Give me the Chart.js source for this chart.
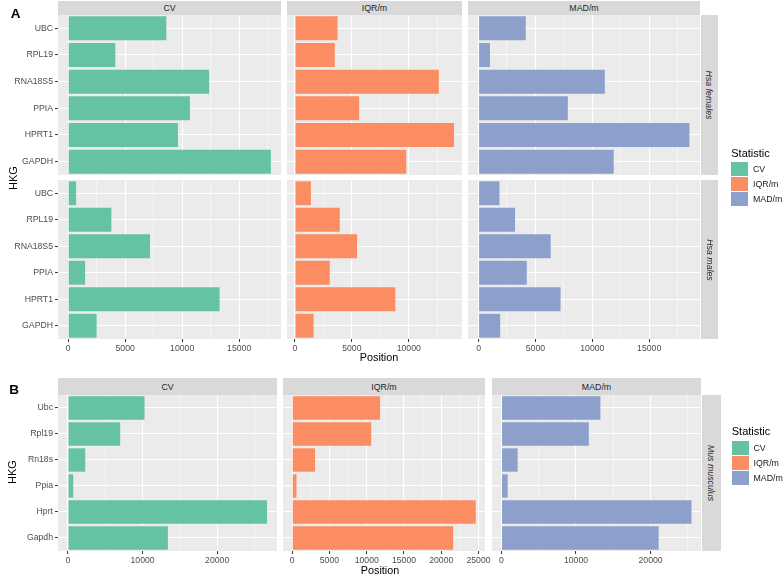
<!DOCTYPE html>
<html>
<head>
<meta charset="utf-8">
<script src="https://cdn.jsdelivr.net/npm/chart.js@4.4.0/dist/chart.umd.min.js"></script>
<style>
body { margin: 0; width: 783px; height: 575px; position: relative; overflow: hidden; background: #fff;
       font-family: "Liberation Sans", Arial, sans-serif; }
.box { position: absolute; }
.strip { position: absolute; background: #D9D9D9; color: #262626; font-size: 8.8px; font-weight: 400;
         display: flex; align-items: center; justify-content: center; }
.strip span { white-space: nowrap; }
.rot span { transform: rotate(90deg); font-style: italic; }
.txt { position: absolute; transform: translate(-50%, -50%); white-space: nowrap; }
.cle { position: absolute; width: 17px; height: 14px; }
.lab { position: absolute; font-size: 8.8px; color: #1A1A1A; transform: translateY(-50%); }
</style>
</head>
<body>
<script>
const genesA = ["UBC", "RPL19", "RNA18S5", "PPIA", "HPRT1", "GAPDH"];
const genesB = ["Ubc", "Rpl19", "Rn18s", "Ppia", "Hprt", "Gapdh"];
const statistiques = ["CV", "IQR/m", "MAD/m"];
const couleurs = ["#66C2A5", "#FC8D62", "#8DA0CB"];

// Hsa females
const femmesCV = [8610, 4140, 12370, 10680, 9630, 17780];
const femmesIQR = [3740, 3500, 12640, 5640, 13980, 9780];
const femmesMAD = [4150, 1000, 11100, 7850, 18540, 11880];
// Hsa males
const hommesCV = [700, 3790, 7180, 1490, 13280, 2500];
const hommesIQR = [1400, 3940, 5460, 3060, 8820, 1640];
const hommesMAD = [1840, 3210, 6340, 4240, 7210, 1900];
// Mus musculus
const sourisCV = [10260, 7000, 2320, 710, 26680, 13390];
const sourisIQR = [11800, 10600, 3070, 570, 24640, 21600];
const sourisMAD = [13270, 11710, 2160, 830, 25490, 21090];

// graduations principales
const ticksA = [0, 5000, 10000, 15000];
const ticksB_CV = [0, 10000, 20000];
const ticksB_IQR = [0, 5000, 10000, 15000, 20000, 25000];
const ticksB_MAD = [0, 10000, 20000];

Chart.defaults.font.family = '"Liberation Sans", Arial, sans-serif';
Chart.defaults.font.size = 8.7;
Chart.defaults.color = "#4D4D4D";

const fondGris = {
    id: "fondGris",
    beforeDraw(chart) {
        const a = chart.chartArea, c = chart.ctx;
        c.save();
        c.fillStyle = "#EBEBEB";
        c.fillRect(a.left, a.top, a.right - a.left, a.bottom - a.top);
        c.restore();
    }
};

function ajouterDiv(classe, x, y, w, h) {
    let d = document.createElement("div");
    d.className = classe;
    d.style.left = x + "px";
    d.style.top = y + "px";
    if (w != null) d.style.width = w + "px";
    if (h != null) d.style.height = h + "px";
    document.body.appendChild(d);
    return d;
}

function texte(str, x, y, style) {
    let d = ajouterDiv("txt", x, y);
    d.textContent = str;
    Object.assign(d.style, style || {});
    return d;
}

function bande(str, x, y, w, h, rot) {
    let d = ajouterDiv(rot ? "strip rot" : "strip", x, y, w, h);
    let s = document.createElement("span");
    s.textContent = str;
    d.appendChild(s);
}

// Un panneau = un graphique Chart.js placé exactement sur la zone grise
// (le canvas déborde à droite pour ne pas couper la dernière étiquette)
const DEBORD = 14;
function panneau(p) {
    let div = ajouterDiv("box", p.left - p.yw, p.top, p.width + p.yw + DEBORD, p.height + p.xh);
    let canvas = document.createElement("canvas");
    div.appendChild(canvas);

    let maxi = Math.max(...p.maxVals);
    let lo = -0.05 * maxi, hi = 1.05 * maxi;
    let pas = p.majeurs[1] - p.majeurs[0];
    let tous = [];
    for (let v of p.majeurs) {
        for (let m of [v - pas / 2, v, v + pas / 2]) {
            if (m >= lo && m <= hi && !tous.includes(m)) tous.push(m);
        }
    }
    tous.sort((a, b) => a - b);
    const estMajeur = (ctx) => ctx.tick && p.majeurs.includes(ctx.tick.value);

    new Chart(canvas, {
        type: "bar",
        data: {
            labels: p.labels,
            datasets: [{
                data: p.valeurs,
                backgroundColor: p.couleur,
                borderWidth: 0,
                barPercentage: 0.9,
                categoryPercentage: 1
            }]
        },
        options: {
            indexAxis: "y",
            responsive: true,
            maintainAspectRatio: false,
            animation: false,
            layout: { padding: { left: 0, top: 0, bottom: 0, right: DEBORD } },
            plugins: { legend: { display: false }, tooltip: { enabled: false } },
            scales: {
                x: {
                    type: "linear", min: lo, max: hi,
                    afterBuildTicks: s => { s.ticks = tous.map(v => ({ value: v })); },
                    afterFit: s => { s.height = p.xh; s.paddingLeft = 0; s.paddingRight = 0; },
                    ticks: {
                        display: p.xh > 0, autoSkip: false, maxRotation: 0, minRotation: 0, padding: 1,
                        callback: v => p.majeurs.includes(v) ? String(v) : ""
                    },
                    grid: {
                        color: "#FFFFFF",
                        lineWidth: ctx => estMajeur(ctx) ? 1.1 : 0.5,
                        drawTicks: p.xh > 0, tickLength: 3, tickWidth: 1,
                        tickColor: ctx => estMajeur(ctx) ? "#333333" : "rgba(0,0,0,0)"
                    },
                    border: { display: false }
                },
                y: {
                    afterFit: s => { s.width = p.yw; s.paddingTop = 0; s.paddingBottom = 0; },
                    ticks: { display: p.yw > 0, padding: 2 },
                    grid: {
                        offset: false, color: "#FFFFFF", lineWidth: 1.1,
                        drawTicks: p.yw > 0, tickLength: 3, tickWidth: 1, tickColor: "#333333"
                    },
                    border: { display: false }
                }
            }
        },
        plugins: [fondGris]
    });
}

function legende(x, yTitre, yCles) {
    texte("Statistic", x + 19.5, yTitre, { fontSize: "11px", color: "#000" });
    for (let i = 0; i < 3; i++) {
        let c = ajouterDiv("cle", x, yCles + i * 15);
        c.style.background = couleurs[i];
        let l = ajouterDiv("lab", x + 22, yCles + i * 15 + 7);
        l.textContent = statistiques[i];
    }
}

// ---- Partie A ----
const colonnesA = [{ left: 58, width: 223 }, { left: 287, width: 175 }, { left: 468, width: 232 }];
const lignesA = [{ top: 15, height: 160 }, { top: 180, height: 159 }];
const donneesA = [[femmesCV, femmesIQR, femmesMAD], [hommesCV, hommesIQR, hommesMAD]];
for (let c = 0; c < 3; c++) {
    bande(statistiques[c], colonnesA[c].left, 1, colonnesA[c].width, 14);
    for (let r = 0; r < 2; r++) {
        panneau({
            left: colonnesA[c].left, width: colonnesA[c].width,
            top: lignesA[r].top, height: lignesA[r].height,
            yw: c == 0 ? 58 : 0, xh: r == 1 ? 16 : 0,
            labels: genesA, valeurs: donneesA[r][c], couleur: couleurs[c],
            maxVals: donneesA[0][c].concat(donneesA[1][c]), majeurs: ticksA
        });
    }
}
bande("Hsa females", 701, 15, 17, 160, true);
bande("Hsa males", 701, 180, 17, 159, true);
texte("A", 15.5, 13, { fontSize: "13.5px", fontWeight: "bold", color: "#000" });
texte("HKG", 13, 178, { fontSize: "11px", color: "#000", transform: "translate(-50%,-50%) rotate(-90deg)" });
texte("Position", 379, 357, { fontSize: "10.8px", color: "#000" });
legende(731, 152.5, 162);

// ---- Partie B ----
const colonnesB = [{ left: 58, width: 219 }, { left: 283, width: 202 }, { left: 492, width: 209 }];
const donneesB = [sourisCV, sourisIQR, sourisMAD];
const ticksB = [ticksB_CV, ticksB_IQR, ticksB_MAD];
for (let c = 0; c < 3; c++) {
    bande(statistiques[c], colonnesB[c].left, 378, colonnesB[c].width, 17);
    panneau({
        left: colonnesB[c].left, width: colonnesB[c].width, top: 395, height: 156,
        yw: c == 0 ? 58 : 0, xh: 16,
        labels: genesB, valeurs: donneesB[c], couleur: couleurs[c],
        maxVals: donneesB[c], majeurs: ticksB[c]
    });
}
bande("Mus musculus", 702, 395, 19, 156, true);
texte("B", 14, 389, { fontSize: "13.5px", fontWeight: "bold", color: "#000" });
texte("HKG", 12, 472, { fontSize: "11px", color: "#000", transform: "translate(-50%,-50%) rotate(-90deg)" });
texte("Position", 380, 570, { fontSize: "10.8px", color: "#000" });
legende(731.5, 431, 441);
</script>
</body>
</html>
